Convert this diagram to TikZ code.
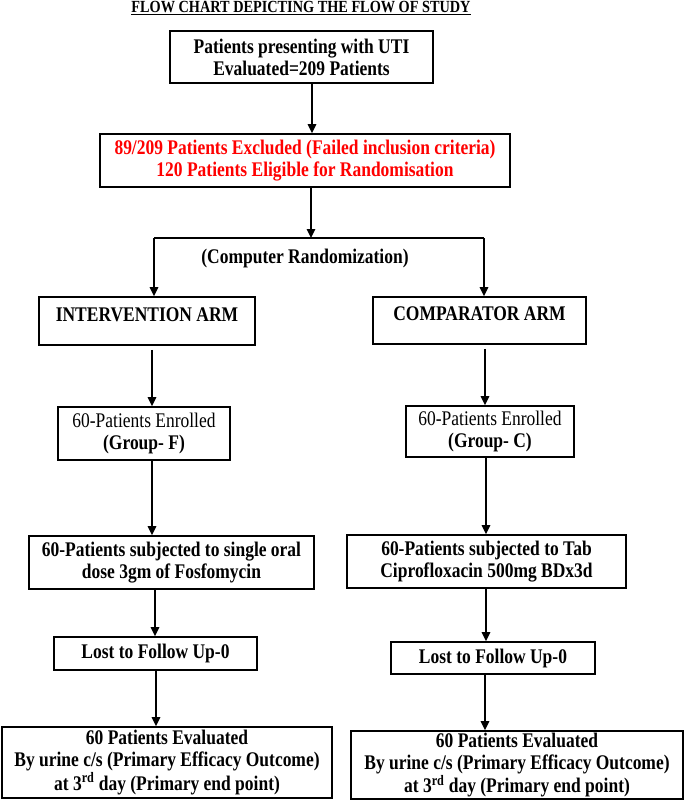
\documentclass[tikz,border=0pt]{standalone}
\usepackage{fontspec}
\setmainfont{Liberation Serif}[FakeStretch=0.84]
\usetikzlibrary{arrows.meta}
\begin{document}
\begin{tikzpicture}[x=1pt,y=-1pt,
  box/.style={draw, line width=1.6pt, inner sep=0pt, align=center,
    font=\fontsize{20.8}{22}\selectfont\bfseries},
  arr/.style={line width=1.6pt, -{Triangle[length=9pt,width=8.5pt]}},
  ln/.style={line width=1.6pt},
  plain/.style={inner sep=0pt, font=\fontsize{20.8}{22}\selectfont\bfseries}]
\useasboundingbox (0,0) rectangle (685,801);
\node[inner sep=0pt, font=\fontsize{17}{18}\selectfont\bfseries] (title) at (301,8) {\underline{FLOW CHART DEPICTING THE FLOW OF STUDY}};
\node[box, minimum width=263pt, minimum height=52pt] (b1) at (301.5,57) {Patients presenting with UTI\\Evaluated=209 Patients};
\node[box, text=red, minimum width=410pt, minimum height=53pt] (b2) at (305,160.5) {89/209 Patients Excluded (Failed inclusion criteria)\\120 Patients Eligible for Randomisation};
\draw[arr] ([xshift=10.5pt]b1.south) -- ([xshift=10.5pt]b1.south |- b2.north);
\coordinate (split) at (311,238);
\coordinate (sL) at (154,238);
\coordinate (sR) at (484,238);
\draw[arr] (b2.south -| split) -- (split);
\draw[ln] (sL) -- (sR);
\node[plain] (rand) at (305,258) {(Computer Randomization)};
\node[box, minimum width=216pt, minimum height=48pt, text height=13pt, text depth=13pt] (armL) at (147,321) {INTERVENTION ARM};
\node[box, minimum width=213pt, minimum height=47pt, text height=13pt, text depth=13pt] (armR) at (479.5,320.5) {COMPARATOR ARM};
\draw[arr] (sL) -- (sL |- armL.north);
\draw[arr] (sR) -- (sR |- armR.north);
\node[box, minimum width=172pt, minimum height=53pt] (enrF) at (144,433.5) {{\mdseries 60-Patients Enrolled}\\(Group- F)};
\node[box, minimum width=168pt, minimum height=51pt] (enrC) at (490,431.5) {{\mdseries 60-Patients Enrolled}\\(Group- C)};
\draw[arr] ([xshift=5pt,yshift=-4pt]armL.south) -- ([xshift=5pt]armL.south |- enrF.north);
\draw[arr] ([xshift=5.5pt,yshift=-4pt]armR.south) -- ([xshift=5.5pt]armR.south |- enrC.north);
\node[box, minimum width=285pt, minimum height=53pt] (subF) at (171.5,562.5) {60-Patients subjected to single oral\\dose 3gm of Fosfomycin};
\node[box, minimum width=279pt, minimum height=53pt] (subC) at (486.5,561.5) {60-Patients subjected to Tab\\Ciprofloxacin 500mg BDx3d};
\draw[arr] ([xshift=8pt]enrF.south) -- ([xshift=8pt]enrF.south |- subF.north);
\draw[arr] ([xshift=-4pt]enrC.south) -- ([xshift=-4pt]enrC.south |- subC.north);
\node[box, minimum width=203pt, minimum height=33pt] (lostF) at (155.5,653.5) {Lost to Follow Up-0};
\node[box, minimum width=204pt, minimum height=32pt] (lostC) at (493,658) {Lost to Follow Up-0};
\draw[arr] ([xshift=-16.5pt]subF.south) -- ([xshift=-16.5pt]subF.south |- lostF.north);
\draw[arr] ([xshift=-0.5pt]subC.south) -- ([xshift=-0.5pt]subC.south |- lostC.north);
\node[box, minimum width=330pt, minimum height=71pt] (evF) at (167,762.5) {60 Patients Evaluated\\By urine c/s (Primary Efficacy Outcome)\\at 3\textsuperscript{rd} day (Primary end point)};
\node[box, minimum width=332pt, minimum height=68pt] (evC) at (517,765) {60 Patients Evaluated\\By urine c/s (Primary Efficacy Outcome)\\at 3\textsuperscript{rd} day (Primary end point)};
\draw[arr] ([xshift=0.5pt]lostF.south) -- ([xshift=0.5pt]lostF.south |- evF.north);
\draw[arr] ([xshift=-8pt]lostC.south) -- ([xshift=-8pt]lostC.south |- evC.north);
\end{tikzpicture}
\end{document}
